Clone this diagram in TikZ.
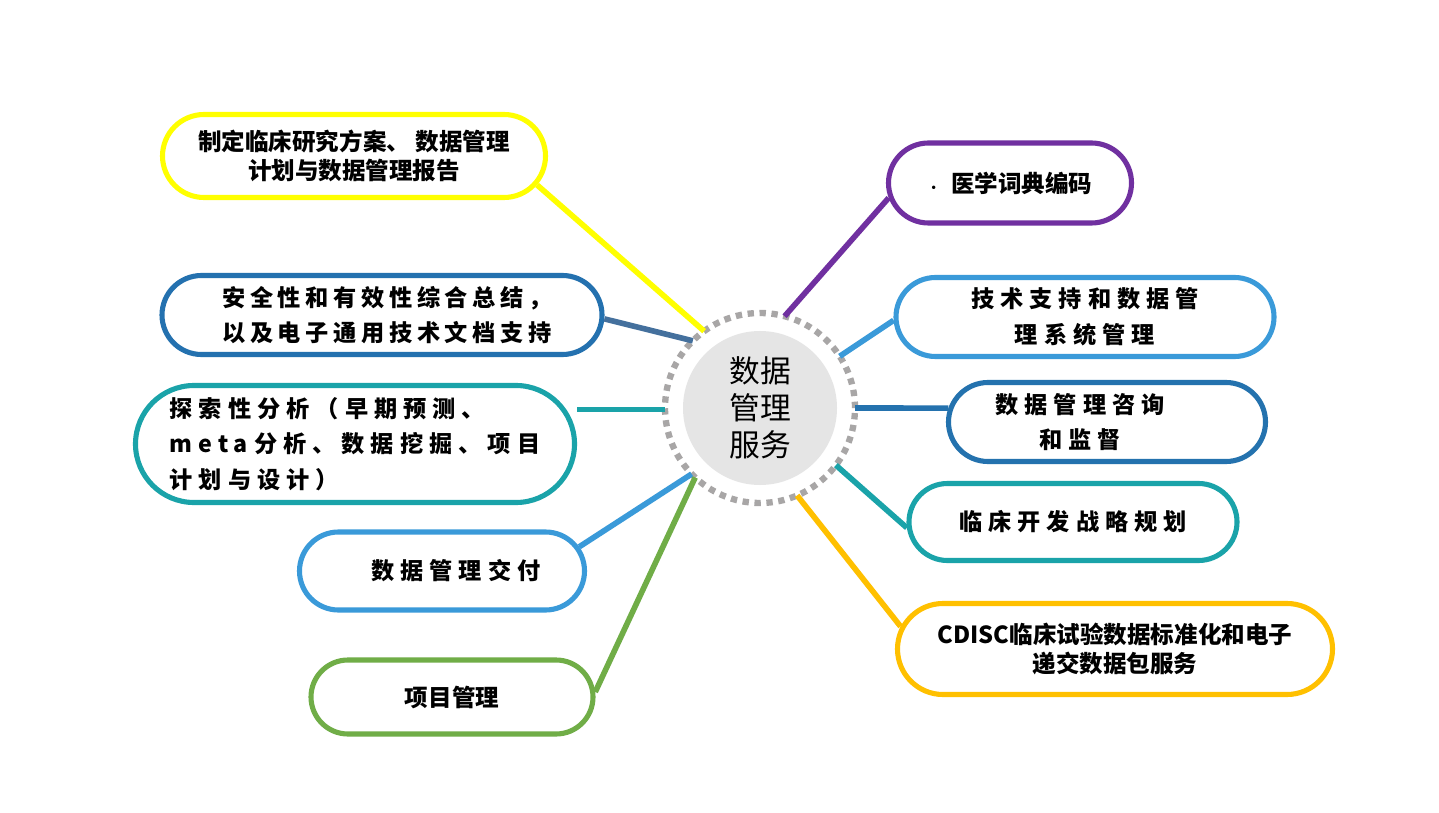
\documentclass[tikz,border=0pt]{standalone}
\usepackage{fontspec}
\setmainfont{Noto Sans CJK SC}
\newfontfamily\widefont{Noto Sans CJK SC}[LetterSpace=26]
\newfontfamily\midfont{Noto Sans CJK SC}[LetterSpace=20]
\usetikzlibrary{shapes.misc}
\definecolor{figyellow}{HTML}{FFFF00}
\definecolor{figslate}{HTML}{2471AF}
\definecolor{figslateline}{HTML}{44709D}
\definecolor{figteal}{HTML}{1AA3A9}
\definecolor{figblue}{HTML}{3A9AD9}
\definecolor{figgreen}{HTML}{70AD47}
\definecolor{figpurple}{HTML}{7030A0}
\definecolor{figdeep}{HTML}{2472AE}
\definecolor{figorange}{HTML}{FFC000}
\definecolor{figring}{HTML}{A8A6A6}
\definecolor{figcore}{HTML}{E5E5E5}
\tikzset{
  figbox/.style={rounded rectangle, draw, line width=2.9pt, fill=white, align=center,
    inner sep=0pt, font=\fontsize{13.4pt}{16.4pt}\selectfont\bfseries},
  figwide/.style={figbox, font=\widefont\fontsize{13.2pt}{20.3pt}\selectfont\bfseries},
  figmid/.style={figbox, font=\midfont\fontsize{13.2pt}{20.3pt}\selectfont\bfseries},
  figlink/.style={line width=3.2pt},
  fighub/.style={circle, draw=figring, line width=3.6pt, dash pattern=on 3.6pt off 3.2pt,
    minimum size=3.8cm, inner sep=0pt, outer sep=0pt},
  figcenter/.style={circle, fill=figcore, minimum size=3.08cm, inner sep=0pt,
    align=center, font=\fontsize{17.5pt}{21pt}\selectfont},
}

\begin{document}
\begin{tikzpicture}
  \useasboundingbox[fill=white] (0,0) rectangle (28.78,-16.26);
  % 中心
  \node[fighub] (hub) at (15.20,-8.16) {};
  \node[figcenter] (core) at (hub) {数据\\管理\\服务};
  % 左侧
  \node[figbox, draw=figyellow, minimum width=7.66cm, minimum height=1.66cm] (plan) at (7.08,-3.12)
    {制定临床研究方案、 数据管理\\计划与数据管理报告};
  \node[figmid, draw=figslate, minimum width=8.80cm, minimum height=1.58cm] (safety) at (7.64,-6.30)
    {\hspace*{0.2cm}安全性和有效性综合总结，\\\hspace*{0.2cm}以及电子通用技术文档支持};
  \node[figwide, draw=figteal, minimum width=8.78cm, minimum height=2.34cm, align=left] (explore) at (7.10,-8.88)
    {探索性分析（早期预测、\\meta分析、数据挖掘、项目\hspace*{0.5cm}\\计划与设计）};
  \node[figwide, draw=figblue, minimum width=5.70cm, minimum height=1.56cm] (deliver) at (8.84,-11.42)
    {\hspace*{0.56cm}数据管理交付};
  \node[figbox, draw=figgreen, minimum width=5.64cm, minimum height=1.48cm] (project) at (9.04,-13.94)
    {项目管理};
  % 右侧
  \node[figbox, draw=figpurple, minimum width=4.86cm, minimum height=1.60cm] (coding) at (20.20,-3.66)
    {{\fontsize{7pt}{7pt}\selectfont ·}\hspace{0.22cm}医学词典编码};
  \node[figwide, draw=figblue, minimum width=7.56cm, minimum height=1.58cm] (support) at (21.70,-6.34)
    {技术支持和数据管\\理系统管理};
  \node[figwide, draw=figdeep, minimum width=6.34cm, minimum height=1.58cm] (consult) at (22.14,-8.44)
    {数据管理咨询\hspace*{1.08cm}\\和监督\hspace*{1.08cm}};
  \node[figwide, draw=figteal, minimum width=6.56cm, minimum height=1.54cm] (strategy) at (21.46,-10.44)
    {临床开发战略规划};
  \node[figbox, draw=figorange, minimum width=8.70cm, minimum height=1.82cm] (cdisc) at (22.30,-12.98)
    {CDISC临床试验数据标准化和电子\\递交数据包服务};
  % 连线
  \draw[figlink, figyellow] (hub.126) -- (plan.-9);
  \draw[figlink, figslateline] (hub.135) -- (safety.-1);
  \draw[figlink, figteal] (hub.181) -- (hub.181 -| explore.east);
  \draw[figlink, figblue] (hub.224) -- (deliver.10);
  \draw[figlink, figgreen] (hub.227) -- (project.2);
  \draw[figlink, figpurple] (hub.75) -- (coding.187);
  \draw[figlink, figblue] (hub.33) -- (support.181);
  \draw[figlink, figdeep] (hub.0) -- (consult.175);
  \draw[figlink, figteal] (hub.-37) -- (strategy.182);
  \draw[figlink, figorange] (hub.-67) -- (cdisc.174);
\end{tikzpicture}
\end{document}
